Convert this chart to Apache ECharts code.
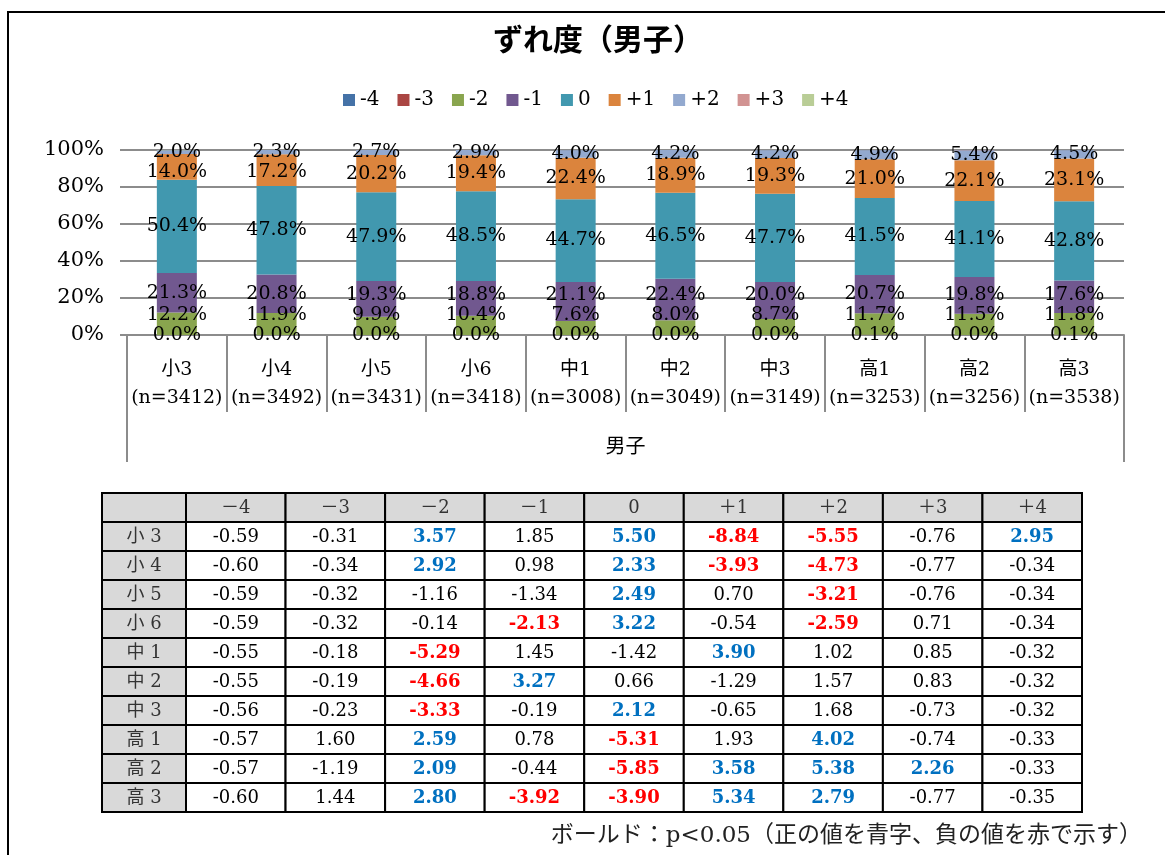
<!DOCTYPE html>
<html lang="ja">
<head>
<meta charset="utf-8">
<title>ずれ度（男子）</title>
<script src="https://cdn.jsdelivr.net/npm/echarts@6/dist/echarts.min.js"></script>
<style>
  html, body { margin: 0; padding: 0; background: #fff; overflow: hidden; }
  #frame { position: absolute; left: 7px; top: 11px; width: 1300px; height: 1000px;
           border: 2px solid #000; box-sizing: border-box; }
  #chart { position: absolute; left: 0; top: 0; width: 1165px; height: 855px; }
</style>
</head>
<body>
<div id="frame"></div>
<div id="chart"></div>
<script>
// Grades and sample sizes
const grades = ['小3', '小4', '小5', '小6', '中1', '中2', '中3', '高1', '高2', '高3'];
const sampleSizes = [3412, 3492, 3431, 3418, 3008, 3049, 3149, 3253, 3256, 3538];

// Deviation levels (series names) and table column headers
const levels = ['-4', '-3', '-2', '-1', '0', '+1', '+2', '+3', '+4'];
const levelHeaders = ['－4', '－3', '－2', '－1', '0', '＋1', '＋2', '＋3', '＋4'];
const groupLabel = '男子';

// Share of each deviation level by grade (%)
const shareM4 = [0.0, 0.0, 0.0, 0.0, 0.0, 0.0, 0.0, 0.0, 0.0, 0.0];
const shareM3 = [0.0, 0.0, 0.0, 0.0, 0.0, 0.0, 0.0, 0.1, 0.0, 0.1];
const shareM2 = [12.2, 11.9, 9.9, 10.4, 7.6, 8.0, 8.7, 11.7, 11.5, 11.8];
const shareM1 = [21.3, 20.8, 19.3, 18.8, 21.1, 22.4, 20.0, 20.7, 19.8, 17.6];
const share0  = [50.4, 47.8, 47.9, 48.5, 44.7, 46.5, 47.7, 41.5, 41.1, 42.8];
const shareP1 = [14.0, 17.2, 20.2, 19.4, 22.4, 18.9, 19.3, 21.0, 22.1, 23.1];
const shareP2 = [2.0, 2.3, 2.7, 2.9, 4.0, 4.2, 4.2, 4.9, 5.4, 4.5];
const shareP3 = [0.0, 0.0, 0.0, 0.1, 0.1, 0.1, 0.0, 0.0, 0.1, 0.0];
const shareP4 = [0.1, 0.0, 0.0, 0.0, 0.0, 0.0, 0.0, 0.0, 0.0, 0.0];

// Adjusted residuals by deviation level (one value per grade)
const residM4 = [-0.59, -0.60, -0.59, -0.59, -0.55, -0.55, -0.56, -0.57, -0.57, -0.60];
const residM3 = [-0.31, -0.34, -0.32, -0.32, -0.18, -0.19, -0.23, 1.60, -1.19, 1.44];
const residM2 = [3.57, 2.92, -1.16, -0.14, -5.29, -4.66, -3.33, 2.59, 2.09, 2.80];
const residM1 = [1.85, 0.98, -1.34, -2.13, 1.45, 3.27, -0.19, 0.78, -0.44, -3.92];
const resid0  = [5.50, 2.33, 2.49, 3.22, -1.42, 0.66, 2.12, -5.31, -5.85, -3.90];
const residP1 = [-8.84, -3.93, 0.70, -0.54, 3.90, -1.29, -0.65, 1.93, 3.58, 5.34];
const residP2 = [-5.55, -4.73, -3.21, -2.59, 1.02, 1.57, 1.68, 4.02, 5.38, 2.79];
const residP3 = [-0.76, -0.77, -0.76, 0.71, 0.85, 0.83, -0.73, -0.74, 2.26, -0.77];
const residP4 = [2.95, -0.34, -0.34, -0.34, -0.32, -0.32, -0.32, -0.33, -0.33, -0.35];

const shares = [shareM4, shareM3, shareM2, shareM1, share0, shareP1, shareP2, shareP3, shareP4];
const residuals = [residM4, residM3, residM2, residM1, resid0, residP1, residP2, residP3, residP4];

// Levels whose segment values are printed on the bars
const bottomLabelled = ['-3', '-2', '-1'];   // stacked upward from the baseline
const middleLabelled = ['0'];
const topLabelled = ['+2', '+1'];            // stacked downward from the top
const labelledLevels = bottomLabelled.concat(middleLabelled, topLabelled);
const LABEL_GAP = 20;                         // minimum spacing between label centres (px)
const CRITICAL = 1.96;                        // two-sided p < 0.05

const palette = ['#4572A7', '#AA4643', '#89A54E', '#71588F', '#4198AF',
                 '#DB843D', '#93A9CF', '#D19392', '#B9CD96'];

const SERIF = "'DejaVu Serif', 'Noto Sans CJK JP', serif";
const GOTHIC = "'Noto Sans CJK JP', sans-serif";
const GRID_GRAY = '#8c8c8c';

// ---- stacked 100% bars ----
const barSeries = levels.map((name, i) => ({
  id: 'lv' + i,
  name,
  type: 'bar',
  stack: 'share',
  barWidth: 40,
  xAxisIndex: 0,
  yAxisIndex: 0,
  data: shares[i],
  itemStyle: { color: palette[i] },
  label: {
    show: labelledLevels.includes(name),
    position: 'inside',
    color: '#000',
    fontFamily: SERIF,
    fontSize: 19,
    formatter: p => p.value.toFixed(1) + '%'
  },
  emphasis: { disabled: true }
}));

// ---- residual table cells ----
const tableRows = [''].concat(grades.map(g => g.slice(0, 1) + ' ' + g.slice(1)));
const headerCells = tableRows.map((t, r) => ({ value: [0, r], text: t, header: true }));
const valueCells = [];
levels.forEach((lv, c) => {
  valueCells.push({ value: [c, 0], text: levelHeaders[c], header: true });
  grades.forEach((g, r) => {
    const z = residuals[c][r];
    valueCells.push({ value: [c, r + 1], text: z.toFixed(2), z });
  });
});

function cellRenderer(cells) {
  return function (params, api) {
    const cell = cells[params.dataIndex];
    const ctr = api.coord([api.value(0), api.value(1)]);
    const sz = api.size([1, 1]);
    let color = '#000', weight = 'normal';
    if (cell.header) color = '#333';
    else if (Math.abs(cell.z) >= CRITICAL) {
      weight = 'bold';
      color = cell.z > 0 ? '#0070C0' : '#FF0000';
    }
    return {
      type: 'group',
      children: [
        { type: 'rect',
          shape: { x: ctr[0] - sz[0] / 2, y: ctr[1] - sz[1] / 2, width: sz[0], height: sz[1] },
          style: { fill: cell.header ? '#D9D9D9' : '#fff', stroke: '#000', lineWidth: 2 } },
        { type: 'text',
          x: ctr[0], y: ctr[1] + 1,
          style: { text: cell.text, fill: color, fontFamily: SERIF, fontSize: 18,
                   fontWeight: weight, align: 'center', verticalAlign: 'middle' } }
      ]
    };
  };
}

const hiddenCat = (data, gridIndex, inverse) => ({
  type: 'category', gridIndex, data, inverse: !!inverse, show: false
});

const option = {
  animation: false,
  title: [
    { text: 'ずれ度（男子）', left: 493, top: 24, padding: 0,
      textStyle: { fontFamily: GOTHIC, fontSize: 30, fontWeight: 'bold', color: '#000' } },
    { text: 'ボールド：p<0.05（正の値を青字、負の値を赤で示す）', right: 23, top: 825, padding: 0,
      textStyle: { fontFamily: SERIF, fontSize: 23, fontWeight: 'normal', color: '#222' } }
  ],
  legend: {
    data: levels,
    left: 343, top: 90, padding: 0,
    icon: 'rect', itemWidth: 12, itemHeight: 12, itemGap: 18,
    textStyle: { fontFamily: SERIF, fontSize: 20, color: '#000' },
    selectedMode: false
  },
  grid: [
    { left: 127, top: 150, width: 997, height: 185 },
    { left: 102, top: 493, width: 84, height: 319 },
    { left: 186, top: 493, width: 896, height: 319 }
  ],
  xAxis: [
    { type: 'category', gridIndex: 0, position: 'bottom',
      data: grades.map((g, i) => g + '\n(n=' + sampleSizes[i] + ')'),
      axisLine: { lineStyle: { color: GRID_GRAY, width: 2 } },
      axisTick: { show: true, length: 77, interval: 0, lineStyle: { color: GRID_GRAY, width: 2 } },
      axisLabel: { interval: 0, margin: 21, color: '#000', fontFamily: SERIF, fontSize: 19, lineHeight: 28 } },
    { type: 'category', gridIndex: 0, position: 'bottom', data: [groupLabel],
      axisLine: { show: false },
      axisTick: { show: true, length: 127, lineStyle: { color: GRID_GRAY, width: 2 } },
      axisLabel: { margin: 100, color: '#000', fontFamily: GOTHIC, fontSize: 20, lineHeight: 20 } },
    hiddenCat(['row'], 1),
    hiddenCat(levels, 2)
  ],
  yAxis: [
    { type: 'value', gridIndex: 0, min: 0, max: 100, interval: 20,
      axisLine: { show: false },
      axisTick: { show: true, length: 7, lineStyle: { color: GRID_GRAY, width: 2 } },
      splitLine: { lineStyle: { color: GRID_GRAY, width: 2 } },
      axisLabel: { margin: 23, color: '#000', fontFamily: SERIF, fontSize: 21, formatter: '{value}%' } },
    hiddenCat(tableRows, 1, true),
    hiddenCat(tableRows, 2, true)
  ],
  series: barSeries.concat([
    { type: 'custom', xAxisIndex: 2, yAxisIndex: 1, data: headerCells,
      renderItem: cellRenderer(headerCells), silent: true },
    { type: 'custom', xAxisIndex: 3, yAxisIndex: 2, data: valueCells,
      renderItem: cellRenderer(valueCells), silent: true }
  ])
};

const chart = echarts.init(document.getElementById('chart'), null, { renderer: 'canvas' });
chart.setOption(option);

// Spread the data labels of thin segments apart so they stay readable:
// bottom labels are pushed upward, top labels downward, in pixel space.
function spreadLabels() {
  const offsets = levels.map(() => grades.map(() => 0));
  grades.forEach((g, c) => {
    const centre = {};
    let cum = 0;
    levels.forEach((lv, s) => {
      const v = shares[s][c];
      centre[lv] = chart.convertToPixel({ xAxisIndex: 0, yAxisIndex: 0 }, [c, cum + v / 2])[1];
      cum += v;
    });
    let prev = null;
    bottomLabelled.forEach(lv => {
      const want = prev === null ? centre[lv] : Math.min(centre[lv], prev - LABEL_GAP);
      offsets[levels.indexOf(lv)][c] = want - centre[lv];
      prev = want;
    });
    prev = null;
    topLabelled.forEach(lv => {
      const want = prev === null ? centre[lv] : Math.max(centre[lv], prev + LABEL_GAP);
      offsets[levels.indexOf(lv)][c] = want - centre[lv];
      prev = want;
    });
  });
  chart.setOption({
    series: levels.map((lv, s) => ({
      id: 'lv' + s,
      data: shares[s].map((v, c) => ({ value: v, label: { offset: [0, offsets[s][c]] } }))
    }))
  });
}
spreadLabels();
</script>
</body>
</html>
